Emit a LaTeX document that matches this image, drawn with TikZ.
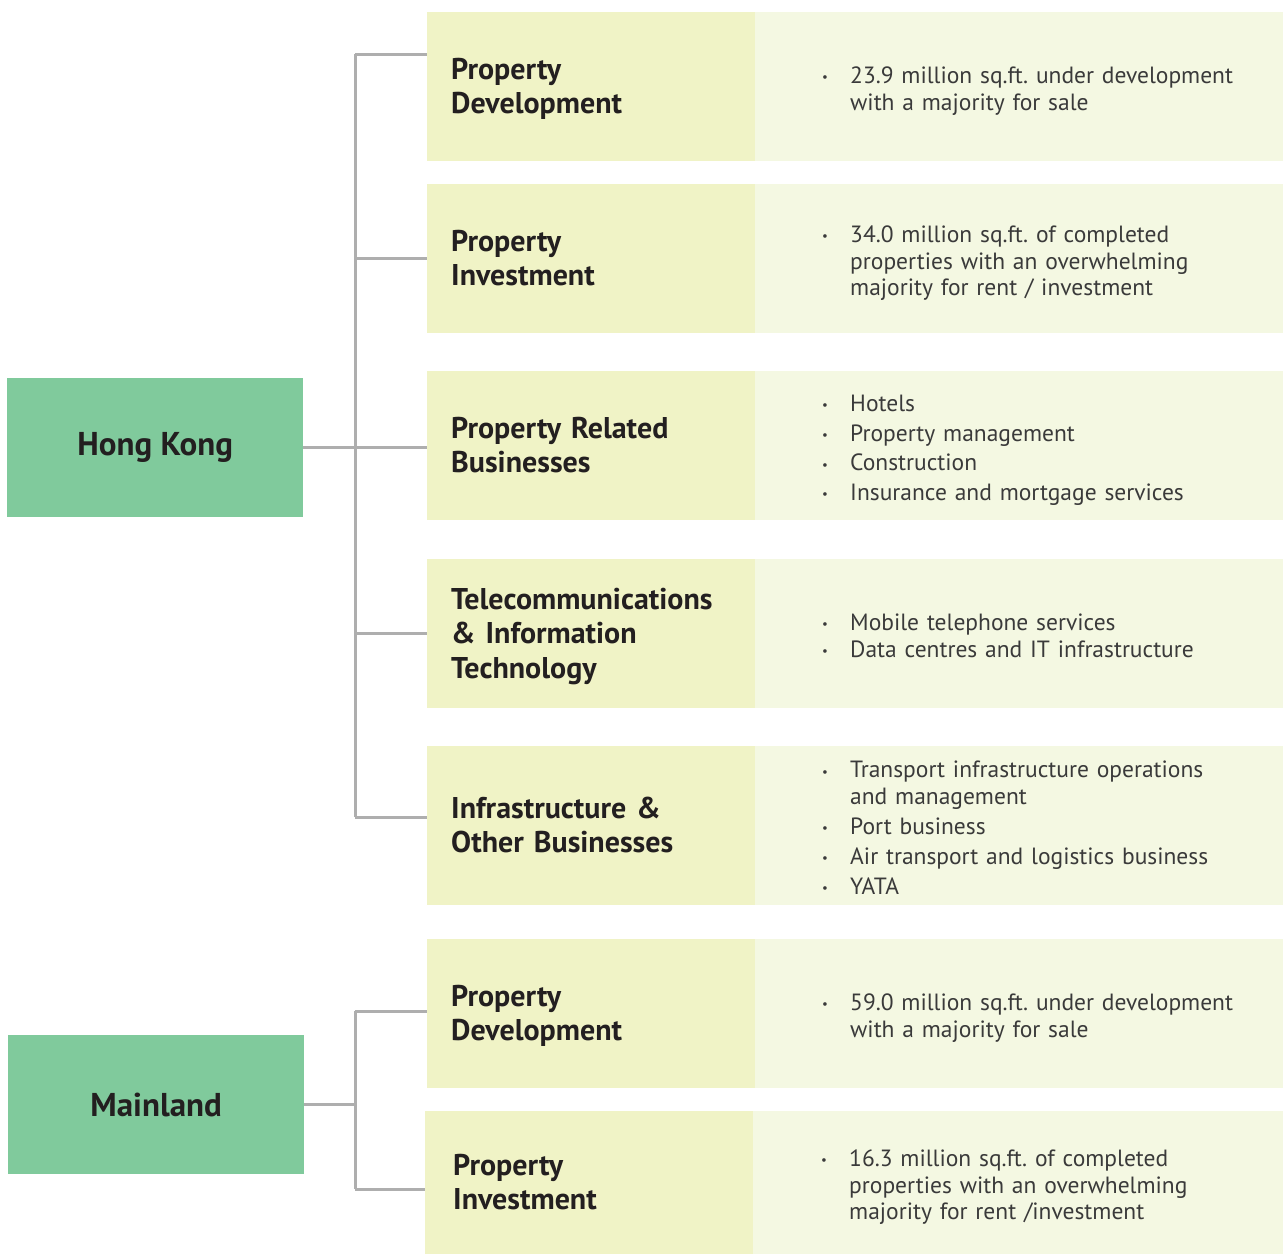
\documentclass[tikz,border=0pt]{standalone}
\usepackage{fontspec}
\setmainfont{PT Sans}
\usepackage{array}
\definecolor{regiongreen}{HTML}{80CA9C}
\definecolor{catfill}{HTML}{F0F3C6}
\definecolor{detfill}{HTML}{F4F8E2}
\definecolor{linegray}{HTML}{AEAEAE}
\definecolor{darktext}{HTML}{231F20}
\definecolor{bodytext}{HTML}{3A3A3A}
\newcommand{\bul}{\makebox[28pt][l]{\raisebox{0.08em}{\scalebox{0.55}{\textbullet}}}}
\newcommand{\bl}[1]{\raisebox{-5pt}[\height][\depth]{\begin{tabular}{@{}p{28pt}@{}l@{}}#1\end{tabular}}}
\newcommand{\hd}[1]{\raisebox{-3pt}[\height][\depth]{\begin{tabular}{@{}l@{}}#1\end{tabular}}}
\begin{document}
\frenchspacing
\begin{tikzpicture}[x=1pt,y=-1pt,
  region/.style={fill=regiongreen, anchor=north west, minimum width=296, minimum height=139,
    inner sep=0pt, font=\fontsize{33}{38}\selectfont\bfseries, text=darktext},
  catbox/.style={fill=catfill, anchor=north west, minimum width=328, minimum height=149,
    text width=280, inner xsep=24, inner ysep=0pt, align=left,
    font=\fontsize{30}{34.5}\selectfont\bfseries, text=darktext},
  detbox/.style={fill=detfill, anchor=north west, minimum width=528, minimum height=149,
    text width=394, inner xsep=67, inner ysep=0pt, align=left,
    font=\fontsize{23.5}{26.8}\selectfont, text=bodytext},
  conn/.style={draw=linegray, line width=3pt}]
\useasboundingbox (0,0) rectangle (1283,1254);

% Hong Kong
\node[region] (hk) at (7,378) {Hong Kong};
\node[catbox] (c1) at (427,12) {\hd{Property\\Development}};
\node[detbox] (d1) at (755,12) {\bl{\bul & 23.9 million sq.ft. under development\\ & with a majority for sale}};
\node[catbox] (c2) at (427,184) {\hd{Property\\Investment}};
\node[detbox] (d2) at (755,184) {\bl{\bul & 34.0 million sq.ft. of completed\\ & properties with an overwhelming\\ & majority for rent / investment}};
\node[catbox] (c3) at (427,371) {\hd{Property Related\\Businesses}};
\node[detbox] (d3) at (755,371) {\bl{\bul & Hotels\\[3pt]\bul & Property management\\[3pt]\bul & Construction\\[3pt]\bul & Insurance and mortgage services}};
\node[catbox] (c4) at (427,559) {\hd{Telecommunications\\\&~Information\\Technology}};
\node[detbox] (d4) at (755,559) {\bl{\bul & Mobile telephone services\\\bul & Data centres and IT infrastructure}};
\node[catbox, minimum height=159] (c5) at (427,746) {\hd{Infrastructure \&\\Other Businesses}};
\node[detbox, minimum height=159] (d5) at (755,746) {\bl{\bul & Transport infrastructure operations\\ & and management\\[3pt]\bul & Port business\\[3pt]\bul & Air transport and logistics business\\[3pt]\bul & YATA}};

% Mainland
\node[region] (ml) at (8,1035) {Mainland};
\node[catbox] (c6) at (427,939) {\hd{Property\\Development}};
\node[detbox] (d6) at (755,939) {\bl{\bul & 59.0 million sq.ft. under development\\ & with a majority for sale}};
\node[catbox, minimum height=143, inner xsep=28] (c7) at (425,1111) {\hd{Property\\Investment}};
\node[detbox, minimum height=143, minimum width=530] (d7) at (753,1111) {\bl{\bul & 16.3 million sq.ft. of completed\\ & properties with an overwhelming\\ & majority for rent /investment}};

% connectors Hong Kong
\coordinate (hkx) at (355,450);
\coordinate (hktop) at (355,54);
\coordinate (hkbot) at (355,817);
\draw[conn] (hk.east) -- (hk.east -| c3.west);
\draw[conn] (hktop) -- (hkbot);
\draw[conn] (hktop) -- (hktop -| c1.west);
\draw[conn] (c2.west -| hkx) -- (c2.west);
\draw[conn] (c4.west -| hkx) -- (c4.west);
\draw[conn] (hkbot) -- (hkbot -| c5.west);

% connectors Mainland
\coordinate (mltop) at (355,1011);
\coordinate (mlbot) at (355,1189);
\draw[conn] (ml.east) -- (ml.east -| mltop);
\draw[conn] (mltop) -- (mlbot);
\draw[conn] (mltop) -- (mltop -| c6.west);
\draw[conn] (mlbot) -- (mlbot -| c7.west);
\end{tikzpicture}
\end{document}
